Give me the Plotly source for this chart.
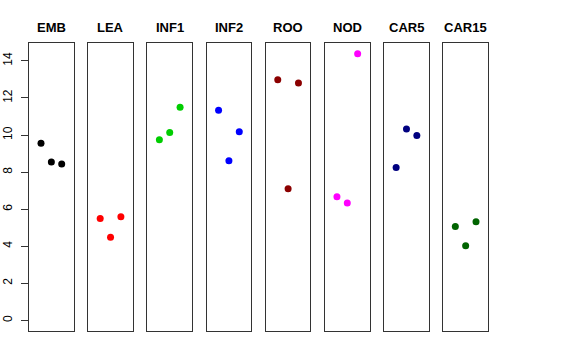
import plotly.graph_objects as go

groups = ["EMB", "LEA", "INF1", "INF2", "ROO", "NOD", "CAR5", "CAR15"]
colors = ["#000000", "#FF0000", "#00CD00", "#0000FF", "#8B0000", "#FF00FF", "#000080", "#006400"]
rep = [1, 2, 3]
values = [
    [9.56, 8.54, 8.43],
    [5.50, 4.49, 5.59],
    [9.74, 10.14, 11.50],
    [11.34, 8.61, 10.17],
    [12.98, 7.10, 12.81],
    [6.67, 6.33, 14.39],
    [8.25, 10.32, 9.97],
    [5.07, 4.03, 5.32],
]
yticks = [0, 2, 4, 6, 8, 10, 12, 14]

W, H = 576, 360
ml, mr, mt, mb = 29, 88, 43, 29
plot_w = W - ml - mr
pitch = 59.19
pw = 44.7

fig = go.Figure()
ymax = max(max(v) for v in values)
pad = 0.04 * ymax
yr = [0 - pad, ymax + pad]

for i, (g, c, v) in enumerate(zip(groups, colors, values)):
    n = i + 1
    xa = "x" if n == 1 else f"x{n}"
    ya = "y" if n == 1 else f"y{n}"
    fig.add_trace(go.Scatter(x=rep, y=v, mode="markers",
                             marker=dict(color=c, size=7, line=dict(width=0)),
                             xaxis=xa, yaxis=ya, showlegend=False))
    left = (i * pitch) / plot_w
    right = (i * pitch + pw) / plot_w
    xkey = "xaxis" if n == 1 else f"xaxis{n}"
    ykey = "yaxis" if n == 1 else f"yaxis{n}"
    fig.layout[xkey] = dict(domain=[left, min(right, 1)], range=[-0.16, 4.16],
                            showgrid=False, zeroline=False, showticklabels=False,
                            ticks="", showline=True, mirror=True, automargin=False,
                            linecolor="#333333", linewidth=1, anchor=ya)
    ycfg = dict(range=yr, showgrid=False, zeroline=False, showline=True,
                mirror=True, linecolor="#333333", linewidth=1, anchor=xa,
                domain=[0, 1], automargin=False)
    if n == 1:
        ycfg.update(tickmode="array", tickvals=yticks, ticktext=[str(t) for t in yticks],
                    ticks="outside", ticklen=7, tickcolor="#333333", tickangle=-90,
                    ticklabelstandoff=4,
                    tickfont=dict(family="Liberation Sans, Arial, sans-serif", size=12, color="black"))
    else:
        ycfg.update(showticklabels=False, ticks="")
    fig.layout[ykey] = ycfg
    fig.add_annotation(text=f"<b>{g}</b>", x=(left + min(right, 1)) / 2, y=1,
                       xref="paper", yref="paper", xanchor="center", yanchor="bottom",
                       yshift=6, showarrow=False,
                       font=dict(family="Liberation Sans, Arial, sans-serif", size=13, color="black"))

fig.update_layout(width=W, height=H, margin=dict(l=ml, r=mr, t=mt, b=mb),
                  plot_bgcolor="white", paper_bgcolor="white")
fig.write_html("out.html", config={"displayModeBar": False},
               post_script="document.body.style.margin='0';")
